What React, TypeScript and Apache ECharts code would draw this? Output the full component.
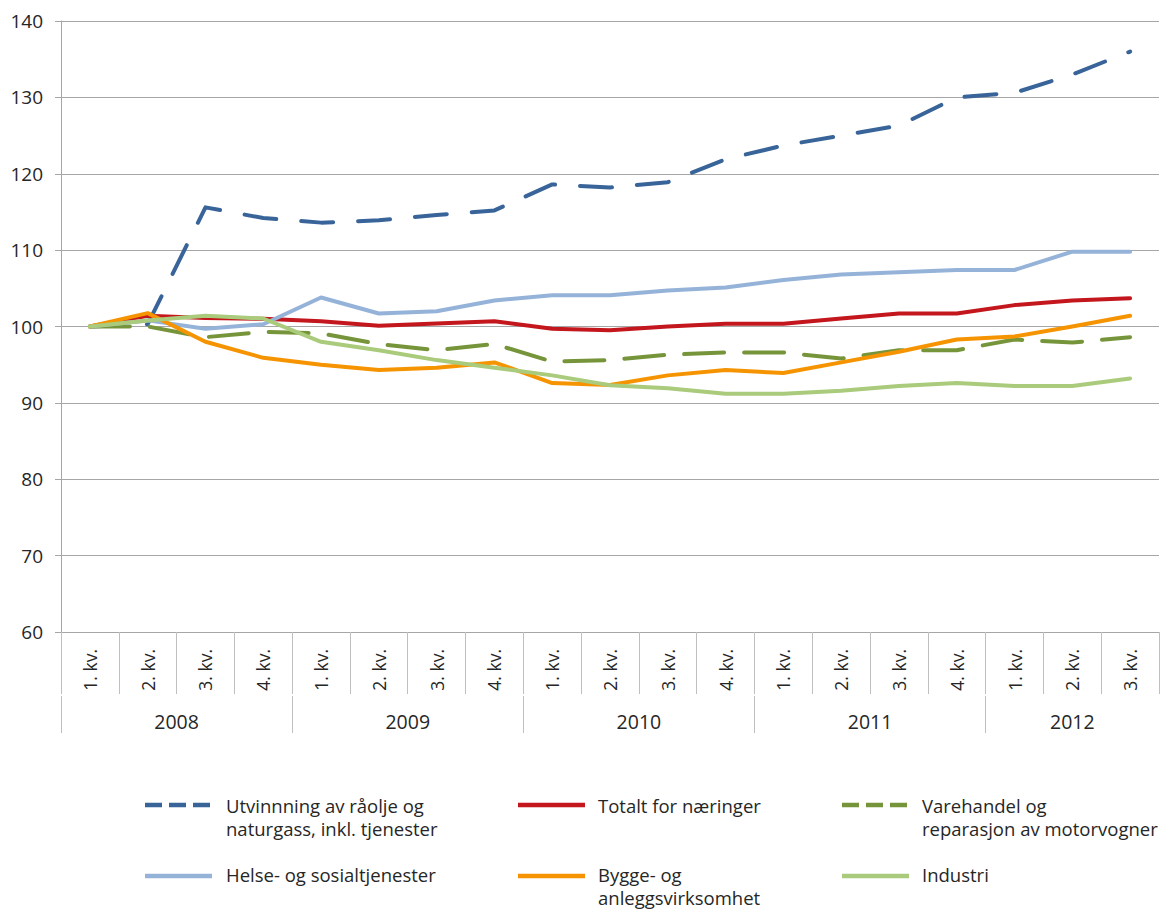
import React, { useEffect, useRef } from "react";
import * as echarts from "echarts";

const quarters = [
  "1. kv.", "2. kv.", "3. kv.", "4. kv.",
  "1. kv.", "2. kv.", "3. kv.", "4. kv.",
  "1. kv.", "2. kv.", "3. kv.", "4. kv.",
  "1. kv.", "2. kv.", "3. kv.", "4. kv.",
  "1. kv.", "2. kv.", "3. kv.",
];
const years = ["2008", "2009", "2010", "2011", "2012"];
const quartersPerYear = [4, 4, 4, 4, 3];

const yTicks = { min: 60, max: 140, interval: 10 };

const utvinning = [100, 100.3, 115.6, 114.2, 113.6, 113.9, 114.6, 115.2, 118.6, 118.2, 118.9, 121.9, 123.7, 125.0, 126.3, 130.0, 130.6, 133.0, 136.0];
const totalt = [100, 101.4, 101.1, 101.0, 100.7, 100.1, 100.4, 100.7, 99.7, 99.5, 100.0, 100.35, 100.35, 101.05, 101.7, 101.7, 102.8, 103.4, 103.7];
const varehandel = [100, 100, 98.6, 99.3, 99.1, 97.7, 96.9, 97.7, 95.4, 95.6, 96.3, 96.6, 96.6, 95.8, 96.9, 96.9, 98.3, 97.9, 98.6];
const helse = [100, 100.8, 99.7, 100.3, 103.8, 101.7, 102.0, 103.4, 104.1, 104.1, 104.7, 105.1, 106.1, 106.8, 107.1, 107.4, 107.4, 109.8, 109.8];
const bygge = [100, 101.75, 98.0, 95.9, 95.0, 94.3, 94.6, 95.3, 92.6, 92.35, 93.6, 94.3, 93.9, 95.3, 96.7, 98.3, 98.7, 100.0, 101.4];
const industri = [100, 100.8, 101.4, 101.05, 98.0, 96.9, 95.6, 94.6, 93.6, 92.3, 91.9, 91.2, 91.2, 91.6, 92.2, 92.6, 92.2, 92.2, 93.2];

const seriesNames = [
  "Utvinnning av råolje og\nnaturgass, inkl. tjenester",
  "Totalt for næringer",
  "Varehandel og\nreparasjon av motorvogner",
  "Helse- og sosialtjenester",
  "Bygge- og\nanleggsvirksomhet",
  "Industri",
];
const seriesData = [utvinning, totalt, varehandel, helse, bygge, industri];
const seriesColors = ["#386499", "#C3161D", "#76953A", "#95B3D8", "#F59400", "#A9CB7B"];
const seriesDash: (number[] | null)[] = [[32, 25], null, [40, 20], null, null, null];
const legendDash: (number[] | null)[] = [[17, 7], null, [17, 7], null, null, null];

const FONT = "'Open Sans', sans-serif";

export default function App() {
  const ref = useRef<HTMLDivElement>(null);
  useEffect(() => {
    document.body.style.margin = "0";
    if (!ref.current) return;
    const chart = echarts.init(ref.current, undefined, { renderer: "svg" });

    const yearTickVals: number[] = [];
    const yearLabelVals: number[] = [];
    let acc = 0;
    quartersPerYear.forEach((n) => {
      yearTickVals.push(acc);
      yearLabelVals.push(acc + n / 2);
      acc += n;
    });

    const colX = [[145, 212, 226], [518, 585, 598], [842, 909, 922]];
    const rowY = [805, 876];
    const rowTextTop = [794, 863];
    const rowLineH = [23, 23];
    const legendEls: any[] = [];
    seriesNames.forEach((name, i) => {
      const c = colX[i % 3];
      const r = Math.floor(i / 3);
      const y = rowY[r];
      legendEls.push({
        type: "line",
        shape: { x1: c[0], y1: y, x2: c[1], y2: y },
        style: {
          stroke: seriesColors[i],
          lineWidth: 4.5,
          lineDash: legendDash[i] || undefined,
        },
      });
      legendEls.push({
        type: "text",
        x: c[2],
        y: rowTextTop[r],
        style: {
          text: name,
          fill: "#262626",
          font: `18.5px ${FONT}`,
          lineHeight: rowLineH[r],
          verticalAlign: "top",
          align: "left",
        },
      });
    });

    chart.setOption({
      animation: false,
      textStyle: { fontFamily: FONT },
      grid: { left: 61, width: 1098, top: 21, height: 611 },
      xAxis: [
        {
          type: "category",
          data: quarters,
          boundaryGap: true,
          axisLine: { show: true, lineStyle: { color: "#A6A6A6", width: 1 } },
          axisTick: { show: true, interval: 0, length: 62, lineStyle: { color: "#BFBFBF" } },
          axisLabel: {
            interval: 0,
            rotate: 90,
            margin: 17,
            fontSize: 17.5,
            color: "#262626",
            fontFamily: FONT,
          },
          splitLine: { show: false },
        },
        {
          type: "value",
          min: 0,
          max: quarters.length,
          position: "bottom",
          offset: 64,
          axisLine: { show: false },
          splitLine: { show: false },
          axisTick: {
            show: true,
            customValues: yearTickVals,
            length: 37,
            lineStyle: { color: "#BFBFBF" },
          },
          axisLabel: {
            show: true,
            customValues: yearLabelVals,
            margin: 15,
            fontSize: 19.5,
            color: "#262626",
            fontFamily: FONT,
            formatter: (v: number) => {
              const idx = yearLabelVals.findIndex((p) => Math.abs(p - v) < 1e-6);
              return idx >= 0 ? years[idx] : "";
            },
          },
        },
      ],
      yAxis: {
        type: "value",
        min: yTicks.min,
        max: yTicks.max,
        interval: yTicks.interval,
        axisLine: { show: true, lineStyle: { color: "#A6A6A6" } },
        axisTick: { show: true, length: 6, lineStyle: { color: "#A6A6A6" } },
        axisLabel: { margin: 18, fontSize: 19, color: "#262626", fontFamily: FONT },
        splitLine: { show: true, lineStyle: { color: "#A6A6A6", width: 1 } },
      },
      series: seriesNames.map((name, i) => ({
        name,
        type: "line",
        xAxisIndex: 0,
        data: seriesData[i],
        symbol: "none",
        showSymbol: false,
        lineStyle: {
          color: seriesColors[i],
          width: 4,
          type: seriesDash[i] || "solid",
          cap: "round",
          join: "round",
        },
        itemStyle: { color: seriesColors[i] },
        z: 2 + i,
      })),
      graphic: legendEls,
    });
    return () => chart.dispose();
  }, []);
  return <div ref={ref} style={{ width: 1160, height: 909 }} />;
}
